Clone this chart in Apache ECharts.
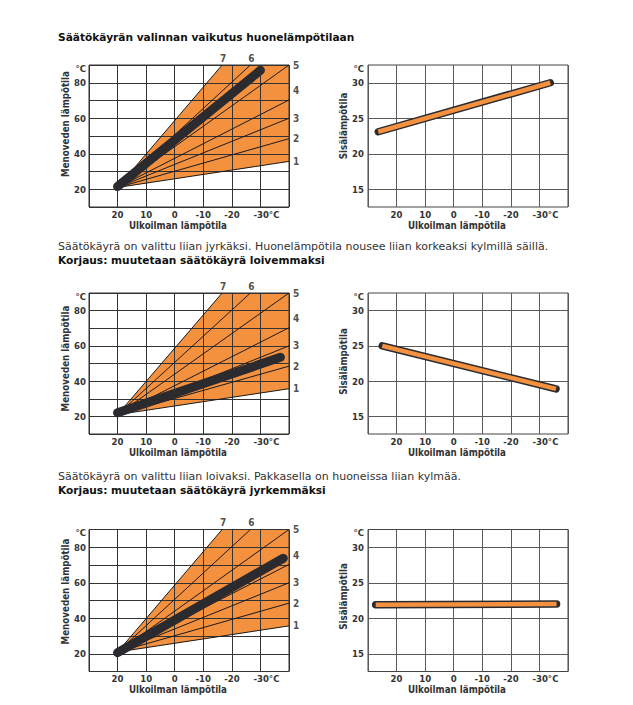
<!DOCTYPE html>
<html><head><meta charset="utf-8">
<script src="https://cdn.jsdelivr.net/npm/echarts@6/dist/echarts.min.js"></script>
<style>html,body{margin:0;padding:0;background:#fff}#c{width:633px;height:705px}</style>
</head><body><div id="c"></div>
<script>
// ---------- data ----------
const titleText = 'Säätökäyrän valinnan vaikutus huonelämpötilaan';
const caption1 = 'Säätökäyrä on valittu liian jyrkäksi. Huonelämpötila nousee liian korkeaksi kylmillä säillä.';
const fix1 = 'Korjaus: muutetaan säätökäyrä loivemmaksi';
const caption2 = 'Säätökäyrä on valittu liian loivaksi. Pakkasella on huoneissa liian kylmää.';
const fix2 = 'Korjaus: muutetaan säätökäyrä jyrkemmäksi';

const outdoorName = 'Ulkoilman lämpötila';
const flowName = 'Menoveden lämpötila';
const roomName = 'Sisälämpötila';

const outdoorTicks = [20, 10, 0, -10, -20, -30];
const flowTicks = [20, 40, 60, 80];
const roomTicks = [15, 20, 25, 30];

// heating curves fan (numbered 1..7)
const curveNames = ['1', '2', '3', '4', '5', '6', '7'];
const curveStart = [20, 21];
const curveEndX = [-40, -40, -40, -40, -40, -26.5, -16.6];
const curveEndY = [35.7, 48.5, 60, 70.3, 90, 90, 90];

// chosen curve (thick dark line) for each example
const flow1 = [[20, 21.5], [-30, 87]];
const flow2 = [[20, 22], [-37, 53.5]];
const flow3 = [[20, 20.6], [-38, 73.8]];

// resulting room temperature for each example
const room1 = [[26.4, 23.1], [-33.8, 30]];
const room2 = [[25, 25], [-35.8, 18.9]];
const room3 = [[27.3, 21.9], [-36, 22]];

// ---------- layout ----------
const FONT = 'DejaVu Sans Condensed';
const TEXT_FONT = 'DejaVu Sans';
const ORANGE = '#F4913F';
const DARK = '#2B2B2F';
const rows = [
  {top: 65, h: 142, flow: flow1, room: room1, padL: 24, padR: 20},
  {top: 293, h: 141, flow: flow2, room: room2, padL: 10, padR: 4},
  {top: 529.5, h: 142, flow: flow3, room: room3, padL: 18, padR: 8}
];
const grids = [], xAxes = [], yAxes = [], series = [];

function xAxisDef(gi) {
  return {
    type: 'value', gridIndex: gi, min: -40, max: 30, interval: 10, inverse: true, z: 3,
    axisLine: {show: false}, axisTick: {show: false},
    splitLine: {show: true, lineStyle: {color: gi % 2 ? '#5a5a5a' : '#333', width: 1}},
    axisLabel: {
      margin: 2, fontFamily: FONT, fontWeight: 'bold', fontSize: 9.5, color: '#333',
      formatter: v => v === -30 ? '{p|}-30°C' : (outdoorTicks.indexOf(v) >= 0 ? String(v) : ''),
      rich: {p: {width: 12}}
    },
    name: outdoorName, nameLocation: 'middle', nameGap: 13,
    nameTextStyle: {fontFamily: FONT, fontWeight: 'bold', fontSize: 9.7, color: '#333', padding: [0, 22, 0, 0]}
  };
}

rows.forEach((r, i) => {
  const gl = i * 2, gr = i * 2 + 1;
  grids.push({left: 89, top: r.top, width: 200, height: r.h, show: true, borderColor: '#333', borderWidth: 1, z: 3, backgroundColor: 'transparent'});
  grids.push({left: 368, top: r.top, width: 200, height: r.h, show: true, borderColor: '#444', borderWidth: 1, z: 3, backgroundColor: 'transparent'});
  xAxes.push(xAxisDef(gl));
  xAxes.push(xAxisDef(gr));
  yAxes.push({
    type: 'value', gridIndex: gl, min: 10, max: 90, interval: 10, z: 3,
    axisLine: {show: false}, axisTick: {show: false},
    splitLine: {show: true, lineStyle: {color: '#333', width: 1}},
    axisLabel: {
      margin: 3, fontFamily: FONT, fontWeight: 'bold', fontSize: 9.5, color: '#333',
      formatter: v => v === 90 ? '{u|°C}' : (flowTicks.indexOf(v) >= 0 ? String(v) : ''),
      rich: {u: {padding: [6, 0, 0, 0], fontFamily: FONT, fontWeight: 'bold', fontSize: 9.5, color: '#333'}}
    },
    name: flowName, nameLocation: 'middle', nameGap: 17, nameRotate: 90,
    nameTextStyle: {fontFamily: FONT, fontWeight: 'bold', fontSize: 9.7, color: '#333', padding: [0, 0, 0, r.padL]}
  });
  yAxes.push({
    type: 'value', gridIndex: gr, min: 12.5, max: 32.5, z: 3,
    axisLine: {show: false}, axisTick: {show: false, customValues: roomTicks},
    splitLine: {show: true, lineStyle: {color: '#5a5a5a', width: 1}},
    axisLabel: {
      margin: 4, fontFamily: FONT, fontWeight: 'bold', fontSize: 9.5, color: '#333',
      customValues: roomTicks.concat([32.5]),
      formatter: v => v === 32.5 ? '{u|°C}' : String(v),
      rich: {u: {padding: [6, 0, 0, 0], fontFamily: FONT, fontWeight: 'bold', fontSize: 9.5, color: '#333'}}
    },
    name: roomName, nameLocation: 'middle', nameGap: 18, nameRotate: 90,
    nameTextStyle: {fontFamily: FONT, fontWeight: 'bold', fontSize: 9.7, color: '#333', padding: [0, 0, 0, r.padR]}
  });

  // orange fan area (polygon through start and all curve ends, which lie on the plot boundary)
  series.push({
    type: 'custom', xAxisIndex: gl, yAxisIndex: gl, z: 2, silent: true, clip: true,
    data: [0],
    renderItem: (params, api) => {
      const pts = [api.coord(curveStart)];
      for (let k = curveNames.length - 1; k >= 0; k--) pts.push(api.coord([curveEndX[k], curveEndY[k]]));
      return {type: 'polygon', shape: {points: pts}, style: {fill: ORANGE, stroke: null}};
    }
  });
  // fan lines
  curveNames.forEach((n, k) => {
    series.push({
      type: 'line', xAxisIndex: gl, yAxisIndex: gl, z: 4, silent: true, symbol: 'none',
      lineStyle: {color: '#1a1a1a', width: 1},
      data: [curveStart, [curveEndX[k], curveEndY[k]]]
    });
  });
  // fan labels
  series.push({
    type: 'scatter', xAxisIndex: gl, yAxisIndex: gl, z: 6, silent: true, symbolSize: 0,
    data: curveNames.map((n, k) => ({
      name: n, value: [curveEndX[k], curveEndY[k]],
      label: curveEndY[k] >= 90 && curveEndX[k] > -40
        ? {position: 'top', distance: 2, offset: [1, 0]}
        : {position: 'right', distance: 4, offset: n === '4' ? [0, -9] : [0, 0]}
    })),
    label: {show: true, formatter: p => p.name, fontFamily: FONT, fontWeight: 'bold', fontSize: 10, color: '#222'}
  });
  // chosen curve
  series.push({
    type: 'line', xAxisIndex: gl, yAxisIndex: gl, z: 5, silent: true, symbol: 'none',
    lineStyle: {color: DARK, width: 9, cap: 'round'},
    data: r.flow
  });
  // room temperature
  series.push({
    type: 'line', xAxisIndex: gr, yAxisIndex: gr, z: 5, silent: true, symbol: 'none',
    lineStyle: {color: DARK, width: 7.5, cap: 'round'},
    data: r.room
  });
  series.push({
    type: 'line', xAxisIndex: gr, yAxisIndex: gr, z: 6, silent: true, symbol: 'none',
    lineStyle: {color: ORANGE, width: 4.5, cap: 'butt'},
    data: r.room
  });
});

function txt(x, y, text, bold) {
  return {
    type: 'text', x: x, y: y, silent: true,
    style: {text: text, fill: bold ? '#111' : '#333',
      font: (bold ? 'bold 10.6px ' : '11px ') + '"' + TEXT_FONT + '"', verticalAlign: 'middle', align: 'left'}
  };
}

const chart = echarts.init(document.getElementById('c'), null, {renderer: 'svg'});
chart.setOption({
  animation: false,
  backgroundColor: '#fff',
  grid: grids, xAxis: xAxes, yAxis: yAxes, series: series,
  graphic: [
    txt(58, 37, titleText, true),
    txt(58, 246, caption1, false),
    txt(58, 260, fix1, true),
    txt(58, 476, caption2, false),
    txt(58, 490, fix2, true)
  ]
});
</script></body></html>
